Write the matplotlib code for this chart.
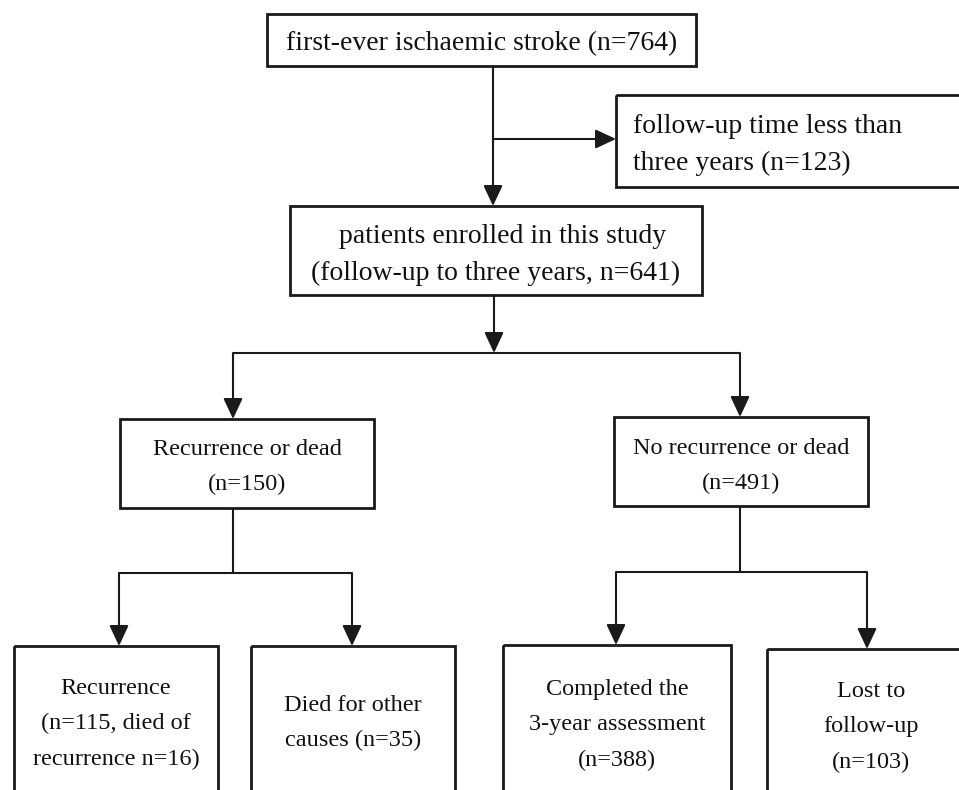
import matplotlib.pyplot as plt
from matplotlib.patches import Rectangle

# box texts (flowchart content)
box_labels = [
    "first-ever ischaemic stroke (n=764)",
    "follow-up time less than\nthree years (n=123)",
    "  patients enrolled in this study\n(follow-up to three years, n=641)",
    "Recurrence or dead\n(n=150)",
    "No recurrence or dead\n(n=491)",
    "Recurrence\n(n=115, died of\nrecurrence n=16)",
    "Died for other\ncauses (n=35)",
    "Completed the\n3-year assessment\n(n=388)",
    "Lost to\nfollow-up\n(n=103)",
]
box_align = ["center", "left", "center", "center", "center",
             "center", "center", "center", "center"]
box_fontsize = [20, 20, 20, 17.5, 17.5, 17.5, 17.5, 17.5, 17.5]

# layout in pixel space: (left, top, right, bottom)
box_geom = [
    (267, 14, 696, 66),
    (616, 95, 975, 187),
    (290, 206, 702, 295),
    (120, 419, 374, 508),
    (614, 417, 868, 506),
    (14, 646, 218, 810),
    (251, 646, 455, 810),
    (503, 645, 731, 810),
    (767, 649, 975, 810),
]
text_y = [44, 145, 255, 467, 466, 724, 723, 725, 727]

# connector lines without heads, and arrows (start -> tip)
plain_lines = [
    ((233, 353), (740, 353)),
    ((233, 508), (233, 573)), ((119, 573), (352, 573)),
    ((740, 506), (740, 572)), ((616, 572), (867, 572)),
]
arrows = [
    ((493, 66), (493, 206)),
    ((493, 139), (616, 139)),
    ((494, 295), (494, 353)),
    ((233, 353), (233, 419)),
    ((740, 353), (740, 417)),
    ((119, 573), (119, 646)),
    ((352, 573), (352, 646)),
    ((616, 572), (616, 645)),
    ((867, 572), (867, 649)),
]

LINE = "#1a1a1a"
W, H = 959, 790

plt.rcParams["font.family"] = ["Liberation Serif", "DejaVu Serif"]
fig = plt.figure(figsize=(W / 100, H / 100), dpi=100)
ax = fig.add_axes([0, 0, 1, 1])
ax.set_xlim(0, W)
ax.set_ylim(H, 0)
ax.axis("off")

for (l, t, r, b), lab, al, fs, ty in zip(box_geom, box_labels, box_align,
                                         box_fontsize, text_y):
    ax.add_patch(Rectangle((l, t), r - l, b - t, fill=False,
                           edgecolor=LINE, linewidth=2.0))
    # keep ~37 px between text lines whatever the size
    ls = 1.9 * 17.5 / fs
    if al == "left":
        ax.text(l + 17, ty, lab, ha="left", va="center", fontsize=fs,
                color="#111111", linespacing=ls)
    else:
        ax.text((l + r) / 2, ty, lab, ha="center", va="center", fontsize=fs,
                color="#111111", linespacing=ls, multialignment="center")

for (x0, y0), (x1, y1) in plain_lines:
    ax.plot([x0, x1], [y0, y1], color=LINE, linewidth=1.5, solid_capstyle="butt")

for start, tip in arrows:
    ax.annotate("", xy=tip, xytext=start,
                arrowprops=dict(arrowstyle="-|>,head_length=0.9,head_width=0.42",
                                color=LINE, lw=1.5, shrinkA=0, shrinkB=0,
                                mutation_scale=14))

fig.savefig("out.png", dpi=100, facecolor="white")
